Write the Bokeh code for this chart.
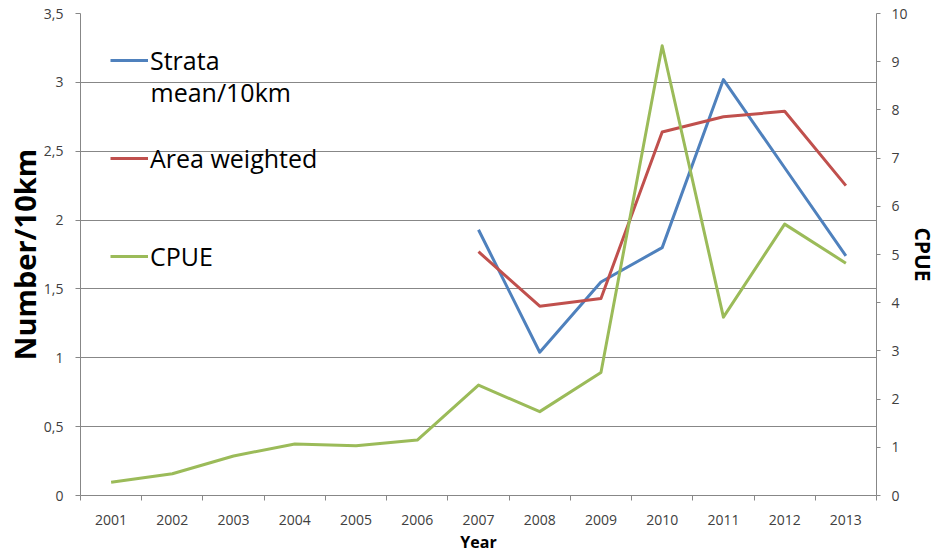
from bokeh.plotting import figure
from bokeh.models import Range1d, LinearAxis, FixedTicker, Legend, LegendItem, Label
from bokeh.embed import file_html
from bokeh.resources import INLINE

# ---- data ----
years = list(range(2001, 2014))
survey_years = list(range(2007, 2014))
strata_mean = [1.93, 1.04, 1.55, 1.80, 3.02, 2.38, 1.74]
area_weighted = [1.77, 1.375, 1.43, 2.64, 2.75, 2.79, 2.25]
cpue = [0.275, 0.45, 0.82, 1.07, 1.03, 1.15, 2.29, 1.74, 2.55, 9.33, 3.70, 5.63, 4.82]
left_ticks = [0, 0.5, 1, 1.5, 2, 2.5, 3, 3.5]
left_tick_labels = ["0", "0,5", "1", "1,5", "2", "2,5", "3", "3,5"]
right_ticks = list(range(0, 11))
category_edges = [y - 0.5 for y in years] + [years[-1] + 0.5]

FONT = "Open Sans"
GRID = "#878787"
TICK_TXT = "#404040"

p = figure(width=940, height=555, output_backend="svg", toolbar_location=None,
           x_range=Range1d(category_edges[0], category_edges[-1]),
           y_range=Range1d(left_ticks[0], left_ticks[-1]),
           min_border_left=80, min_border_right=64, min_border_top=13, min_border_bottom=59)
p.extra_y_ranges = {"cpue": Range1d(right_ticks[0], right_ticks[-1])}
p.outline_line_color = None
p.background_fill_color = "white"
p.border_fill_color = "white"

# x axis (category style: ticks between years)
xa = p.xaxis[0]
xa.ticker = FixedTicker(ticks=years, minor_ticks=category_edges)
xa.major_tick_out = 0
xa.major_tick_in = 0
xa.minor_tick_out = 5
xa.minor_tick_in = 0
xa.minor_tick_line_color = GRID
xa.axis_line_color = GRID
xa.major_label_standoff = 14
xa.major_label_text_font = FONT
xa.major_label_text_font_size = "14px"
xa.major_label_text_color = TICK_TXT
xa.axis_label = "Year"
xa.axis_label_text_font = FONT
xa.axis_label_text_font_size = "16px"
xa.axis_label_text_font_style = "bold"
xa.axis_label_text_color = "black"
xa.axis_label_standoff = 3

# left axis
ya = p.yaxis[0]
ya.ticker = FixedTicker(ticks=left_ticks)
ya.major_label_overrides = dict(zip(left_ticks, left_tick_labels))
ya.major_tick_out = 5
ya.major_tick_in = 0
ya.minor_tick_out = 0
ya.minor_tick_in = 0
ya.major_tick_line_color = GRID
ya.axis_line_color = GRID
ya.major_label_standoff = 12
ya.major_label_text_font = FONT
ya.major_label_text_font_size = "14px"
ya.major_label_text_color = TICK_TXT
ya.axis_label = "Number/10km"
ya.axis_label_text_font = FONT
ya.axis_label_text_font_size = "29px"
ya.axis_label_text_font_style = "bold"
ya.axis_label_text_color = "black"
ya.axis_label_standoff = -3

# right axis
ra = LinearAxis(y_range_name="cpue", ticker=FixedTicker(ticks=right_ticks))
ra.major_tick_out = 4
ra.major_tick_in = 0
ra.minor_tick_out = 0
ra.minor_tick_in = 0
ra.major_tick_line_color = GRID
ra.axis_line_color = GRID
ra.major_label_standoff = 11
ra.major_label_text_font = FONT
ra.major_label_text_font_size = "14px"
ra.major_label_text_color = TICK_TXT
ra.axis_label = "CPUE"
ra.axis_label_text_font = FONT
ra.axis_label_text_font_size = "21px"
ra.axis_label_text_font_style = "bold"
ra.axis_label_text_color = "black"
ra.axis_label_standoff = -2
if "axis_label_orientation" in ra.properties():
    ra.axis_label_orientation = "vertical"
p.add_layout(ra, "right")

# grid
p.xgrid.visible = False
p.ygrid.ticker = FixedTicker(ticks=left_ticks)
p.ygrid.grid_line_color = GRID
p.ygrid.grid_line_width = 1

# series
r_strata = p.line(survey_years, strata_mean, line_color="#4F81BD", line_width=3, line_join="round")
r_area = p.line(survey_years, area_weighted, line_color="#C0504D", line_width=3, line_join="round")
r_cpue = p.line(years, cpue, line_color="#9BBB59", line_width=3, line_join="round", y_range_name="cpue")

legend = Legend(items=[LegendItem(label="Strata", renderers=[r_strata]),
                       LegendItem(label="Area weighted", renderers=[r_area]),
                       LegendItem(label="CPUE", renderers=[r_cpue])],
                location="top_left", margin=0, padding=30, spacing=64,
                glyph_width=38, glyph_height=34, label_height=34, label_standoff=2,
                label_text_font=FONT, label_text_font_size="25px", label_text_color="black",
                border_line_alpha=0, background_fill_alpha=0)
p.add_layout(legend)

p.add_layout(Label(x=70, y=404, x_units="screen", y_units="screen", text="mean/10km",
                   text_font=FONT, text_font_size="25px", text_color="black",
                   text_baseline="middle", text_align="left"))

open("out.html", "w").write(file_html(p, INLINE))
